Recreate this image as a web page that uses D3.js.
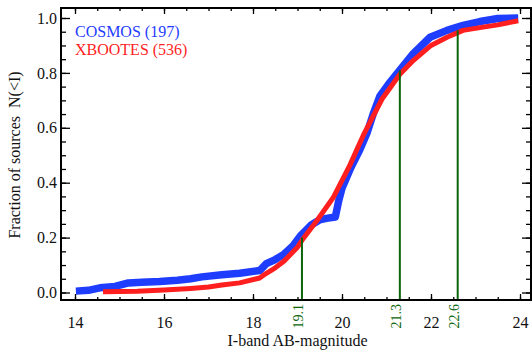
<!DOCTYPE html>
<html>
<head>
<meta charset="utf-8">
<script src="https://cdn.jsdelivr.net/npm/d3@7"></script>
<style>
  body { margin: 0; background: #fff; }
  svg text { font-family: "Liberation Serif", "Times New Roman", "DejaVu Serif", serif; }
</style>
</head>
<body>
<svg id="chart"></svg>
<script>
// cumulative fractions
const cosmosMag = [14.02, 14.3, 14.56, 14.9, 15.2, 15.5, 15.9, 16.3, 16.6, 16.85, 17.3, 17.7, 18.15, 18.3, 18.5, 18.7, 18.9, 19.06, 19.3, 19.5, 19.65, 19.85, 19.92, 20.0, 20.2, 20.4, 20.56, 20.7, 20.85, 21.05, 21.3, 21.6, 21.98, 22.36, 22.72, 23.1, 23.5, 23.96];
const cosmosFrac = [0.005, 0.008, 0.017, 0.022, 0.035, 0.037, 0.04, 0.045, 0.05, 0.057, 0.065, 0.07, 0.08, 0.105, 0.12, 0.14, 0.17, 0.205, 0.245, 0.265, 0.27, 0.275, 0.33, 0.38, 0.455, 0.52, 0.58, 0.65, 0.715, 0.76, 0.81, 0.87, 0.93, 0.955, 0.973, 0.987, 0.998, 1.0];
const xbootesMag = [14.63, 15.4, 16.0, 16.6, 17.0, 17.3, 17.7, 18.15, 18.3, 18.5, 18.7, 19.0, 19.1, 19.45, 19.8, 20.18, 20.5, 20.9, 21.3, 21.6, 22.0, 22.36, 22.72, 23.1, 23.5, 23.96];
const xbootesFrac = [0.003, 0.005, 0.009, 0.015, 0.02, 0.027, 0.035, 0.053, 0.07, 0.09, 0.115, 0.165, 0.19, 0.265, 0.345, 0.465, 0.58, 0.705, 0.795, 0.845, 0.9, 0.93, 0.955, 0.965, 0.975, 0.99];
const markMag = [19.1, 21.3, 22.6];
const markFrac = [0.2, 0.81, 0.955];
const markLabels = ["19.1", "21.3", "22.6"];
const xTicks = [14, 16, 18, 20, 22, 24];
const yTicks = [0.0, 0.2, 0.4, 0.6, 0.8, 1.0];
const legendLabels = ["COSMOS (197)", "XBOOTES (536)"];

const width = 532;
const height = 352;
const serif = "'Liberation Serif', 'Times New Roman', 'DejaVu Serif', serif";
const blue = "#1f3dff";
const red = "#ff1f1f";
const green = "#0b650b";

const svg = d3.select("#chart").attr("width", width).attr("height", height);

const x = d3.scaleLinear().domain([14, 24]).range([75, 520]);
const y = d3.scaleLinear().domain([0, 1]).range([292.5, 18]);

const frameL = 61, frameR = 531, frameT = 8, frameB = 300;

// curves
const line = d3.line().x((d) => x(d[0])).y((d) => y(d[1]));
const cosmos = d3.zip(cosmosMag, cosmosFrac);
const xbootes = d3.zip(xbootesMag, xbootesFrac);

svg.append("path").datum(cosmos).attr("d", line)
  .attr("fill", "none").attr("stroke", blue).attr("stroke-width", 7.5)
  .attr("stroke-linejoin", "round");
svg.append("path").datum(xbootes).attr("d", line)
  .attr("fill", "none").attr("stroke", red).attr("stroke-width", 5)
  .attr("stroke-linejoin", "round");

// green markers
markMag.forEach((m, i) => {
  svg.append("line")
    .attr("x1", x(m)).attr("x2", x(m))
    .attr("y1", frameB).attr("y2", y(markFrac[i]))
    .attr("stroke", green).attr("stroke-width", 2);
  svg.append("text")
    .attr("transform", `translate(${x(m) + 1.5},${frameB + 4}) rotate(-90)`)
    .attr("text-anchor", "end")
    .attr("font-family", serif)
    .attr("font-size", 14)
    .attr("fill", green)
    .text(markLabels[i]);
});

// axes
const minorX = d3.range(14, 24.01, 0.5);
const minorY = d3.range(0, 1.001, 0.05);

svg.append("g").attr("transform", `translate(0,${frameB})`)
  .call(d3.axisBottom(x).tickValues(minorX).tickSize(-3).tickFormat(""));
svg.append("g").attr("transform", `translate(0,${frameB})`)
  .call(d3.axisBottom(x).tickValues(xTicks).tickSize(-6).tickPadding(17).tickFormat(d3.format("d")));
svg.append("g").attr("transform", `translate(0,${frameT})`)
  .call(d3.axisTop(x).tickValues(minorX).tickSize(-3).tickFormat(""));
svg.append("g").attr("transform", `translate(0,${frameT})`)
  .call(d3.axisTop(x).tickValues(xTicks).tickSize(-6).tickFormat(""));

svg.append("g").attr("transform", `translate(${frameL},0)`)
  .call(d3.axisLeft(y).tickValues(minorY).tickSize(-5).tickFormat(""));
svg.append("g").attr("transform", `translate(${frameL},0)`)
  .call(d3.axisLeft(y).tickValues(yTicks).tickSize(-9).tickPadding(4).tickFormat(d3.format(".1f")));
svg.append("g").attr("transform", `translate(${frameR},0)`)
  .call(d3.axisRight(y).tickValues(minorY).tickSize(-5).tickFormat(""));
svg.append("g").attr("transform", `translate(${frameR},0)`)
  .call(d3.axisRight(y).tickValues(yTicks).tickSize(-9).tickFormat(""));

svg.selectAll(".domain").remove();
svg.selectAll("g").attr("font-family", serif);
svg.selectAll(".tick line").attr("stroke", "#000").attr("stroke-width", 1.3);
svg.selectAll(".tick text").attr("font-size", 16).attr("fill", "#111");

svg.append("rect")
  .attr("x", frameL).attr("y", frameT)
  .attr("width", frameR - frameL).attr("height", frameB - frameT)
  .attr("fill", "none").attr("stroke", "#000").attr("stroke-width", 2);

// titles
svg.append("text")
  .attr("x", (x(14) + x(24)) / 2).attr("y", 346)
  .attr("text-anchor", "middle").attr("font-family", serif)
  .attr("font-size", 16).attr("fill", "#111")
  .text("I-band AB-magnitude");

svg.append("text")
  .attr("transform", `translate(20,155) rotate(-90)`)
  .attr("text-anchor", "middle").attr("font-family", serif)
  .attr("font-size", 16).attr("fill", "#111")
  .style("white-space", "pre")
  .text("Fraction of sources  N(<I)");

// legend
svg.selectAll(".legend").data(legendLabels).enter().append("text")
  .attr("class", "legend")
  .attr("x", 75).attr("y", (d, i) => 37 + i * 18)
  .attr("font-family", serif)
  .attr("font-size", 16)
  .attr("fill", (d, i) => (i === 0 ? blue : red))
  .text((d) => d);
</script>
</body>
</html>
